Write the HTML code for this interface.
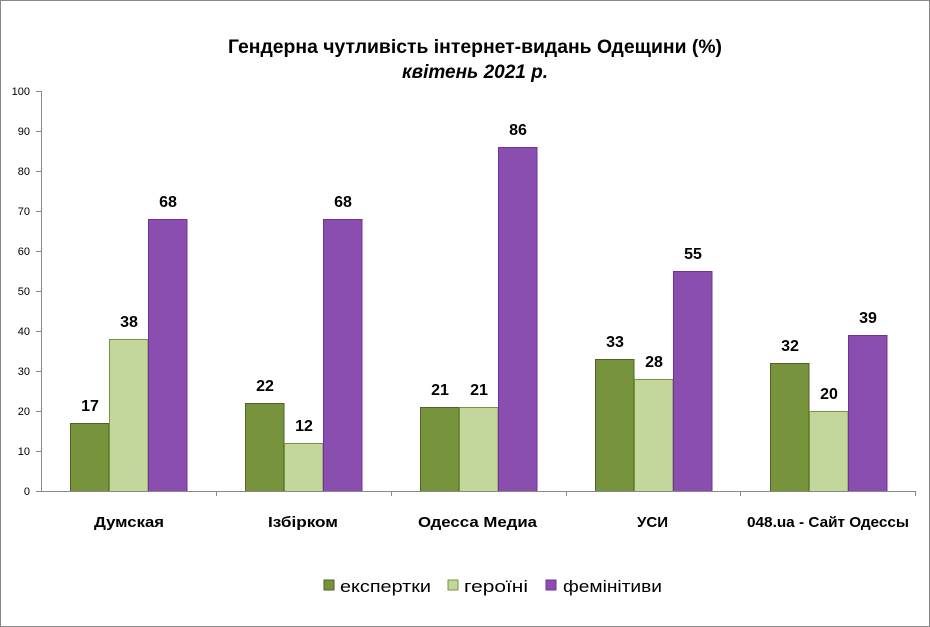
<!DOCTYPE html>
<html><head><meta charset="utf-8"><style>
body{margin:0;background:#fff}
svg{display:block;font-family:"Liberation Sans",Arial,sans-serif}
</style></head><body>
<svg width="930" height="627" viewBox="0 0 930 627">
<rect x="0.5" y="0.5" width="929" height="626" fill="#fff" stroke="#888"/>
<text x="475" y="53" text-anchor="middle" font-size="19" font-weight="bold" textLength="494" lengthAdjust="spacingAndGlyphs">Гендерна чутливість інтернет-видань Одещини (%)</text>
<text x="475" y="78" text-anchor="middle" font-size="19" font-weight="bold" font-style="italic">квітень 2021 р.</text>
<g font-size="11" text-anchor="end">
<text x="30" y="495">0</text><text x="30" y="455">10</text><text x="30" y="415">20</text><text x="30" y="375">30</text><text x="30" y="335">40</text><text x="30" y="295">50</text><text x="30" y="255">60</text><text x="30" y="215">70</text><text x="30" y="175">80</text><text x="30" y="135">90</text><text x="30" y="95">100</text>
</g>
<g stroke="#888" stroke-width="1">
<line x1="41.5" y1="91" x2="41.5" y2="491"/>
<line x1="36" y1="91.5" x2="41" y2="91.5"/><line x1="36" y1="131.5" x2="41" y2="131.5"/><line x1="36" y1="171.5" x2="41" y2="171.5"/><line x1="36" y1="211.5" x2="41" y2="211.5"/><line x1="36" y1="251.5" x2="41" y2="251.5"/><line x1="36" y1="291.5" x2="41" y2="291.5"/><line x1="36" y1="331.5" x2="41" y2="331.5"/><line x1="36" y1="371.5" x2="41" y2="371.5"/><line x1="36" y1="411.5" x2="41" y2="411.5"/><line x1="36" y1="451.5" x2="41" y2="451.5"/>
<line x1="216.5" y1="491" x2="216.5" y2="496"/><line x1="391.5" y1="491" x2="391.5" y2="496"/><line x1="566.5" y1="491" x2="566.5" y2="496"/><line x1="740.5" y1="491" x2="740.5" y2="496"/><line x1="915.5" y1="491" x2="915.5" y2="496"/>
</g>
<g stroke-width="1">
<rect x="70.5" y="423.5" width="38.5" height="68" fill="#77933c" stroke="#4f6228"/>
<rect x="109.5" y="339.5" width="38.5" height="152" fill="#c3d69b" stroke="#77933c"/>
<rect x="148.5" y="219.5" width="38.5" height="272" fill="#8a4fae" stroke="#7030a0"/>
<rect x="245.5" y="403.5" width="38.5" height="88" fill="#77933c" stroke="#4f6228"/>
<rect x="284.5" y="443.5" width="38.5" height="48" fill="#c3d69b" stroke="#77933c"/>
<rect x="323.5" y="219.5" width="38.5" height="272" fill="#8a4fae" stroke="#7030a0"/>
<rect x="420.5" y="407.5" width="38.5" height="84" fill="#77933c" stroke="#4f6228"/>
<rect x="459.5" y="407.5" width="38.5" height="84" fill="#c3d69b" stroke="#77933c"/>
<rect x="498.5" y="147.5" width="38.5" height="344" fill="#8a4fae" stroke="#7030a0"/>
<rect x="595.5" y="359.5" width="38.5" height="132" fill="#77933c" stroke="#4f6228"/>
<rect x="634.5" y="379.5" width="38.5" height="112" fill="#c3d69b" stroke="#77933c"/>
<rect x="673.5" y="271.5" width="38.5" height="220" fill="#8a4fae" stroke="#7030a0"/>
<rect x="770.5" y="363.5" width="38.5" height="128" fill="#77933c" stroke="#4f6228"/>
<rect x="809.5" y="411.5" width="38.5" height="80" fill="#c3d69b" stroke="#77933c"/>
<rect x="848.5" y="335.5" width="38.5" height="156" fill="#8a4fae" stroke="#7030a0"/>
</g>
<line x1="36" y1="491.5" x2="915" y2="491.5" stroke="#888"/>
<g font-size="16" font-weight="bold" text-anchor="middle">
<text x="90" y="411">17</text><text x="129" y="327">38</text><text x="168" y="207">68</text>
<text x="265" y="391">22</text><text x="304" y="431">12</text><text x="343" y="207">68</text>
<text x="440" y="395">21</text><text x="479" y="395">21</text><text x="518" y="135">86</text>
<text x="615" y="347">33</text><text x="654" y="367">28</text><text x="693" y="259">55</text>
<text x="790" y="351">32</text><text x="829" y="399">20</text><text x="868" y="323">39</text>
</g>
<g font-size="15" font-weight="bold">
<text x="94" y="527" textLength="70" lengthAdjust="spacingAndGlyphs">Думская</text>
<text x="268" y="527" textLength="70" lengthAdjust="spacingAndGlyphs">Ізбірком</text>
<text x="418" y="527" textLength="119" lengthAdjust="spacingAndGlyphs">Одесса Медиа</text>
<text x="637" y="527" textLength="31" lengthAdjust="spacingAndGlyphs">УСИ</text>
<text x="747" y="527" textLength="162" lengthAdjust="spacingAndGlyphs">048.ua - Сайт Одессы</text>
</g>
<g font-size="17">
<rect x="324" y="580" width="10" height="10" fill="#77933c" stroke="#4f6228"/><text x="340" y="592" textLength="91" lengthAdjust="spacingAndGlyphs">експертки</text>
<rect x="448" y="580" width="10" height="10" fill="#c3d69b" stroke="#77933c"/><text x="464" y="592" textLength="64" lengthAdjust="spacingAndGlyphs">героїні</text>
<rect x="546" y="580" width="10" height="10" fill="#8a4fae" stroke="#7030a0"/><text x="563" y="592" textLength="99" lengthAdjust="spacingAndGlyphs">фемінітиви</text>
</g>
</svg>
</body></html>
